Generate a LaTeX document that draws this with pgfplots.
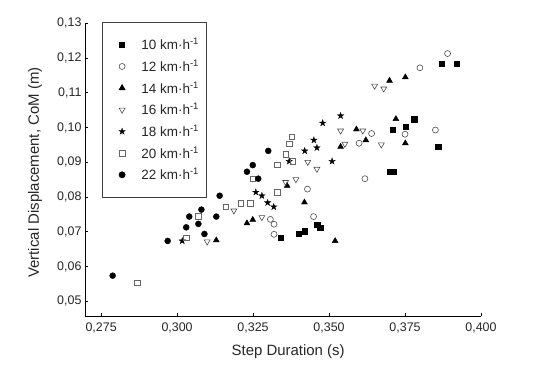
\documentclass[border=0pt]{standalone}
\usepackage{fontspec}
\setmainfont{Liberation Sans}
\usepackage{pgfplots}
\pgfplotsset{compat=1.18}
\pgfdeclareplotmark{fstar}{%
 \pgfpathmoveto{\pgfqpoint{0pt}{\pgfplotmarksize}}%
 \pgfpathlineto{\pgfqpoint{0.2245\pgfplotmarksize}{0.3090\pgfplotmarksize}}%
 \pgfpathlineto{\pgfqpoint{0.9511\pgfplotmarksize}{0.3090\pgfplotmarksize}}%
 \pgfpathlineto{\pgfqpoint{0.3633\pgfplotmarksize}{-0.1180\pgfplotmarksize}}%
 \pgfpathlineto{\pgfqpoint{0.5878\pgfplotmarksize}{-0.8090\pgfplotmarksize}}%
 \pgfpathlineto{\pgfqpoint{0pt}{-0.382\pgfplotmarksize}}%
 \pgfpathlineto{\pgfqpoint{-0.5878\pgfplotmarksize}{-0.8090\pgfplotmarksize}}%
 \pgfpathlineto{\pgfqpoint{-0.3633\pgfplotmarksize}{-0.1180\pgfplotmarksize}}%
 \pgfpathlineto{\pgfqpoint{-0.9511\pgfplotmarksize}{0.3090\pgfplotmarksize}}%
 \pgfpathlineto{\pgfqpoint{-0.2245\pgfplotmarksize}{0.3090\pgfplotmarksize}}%
 \pgfpathclose
 \pgfusepathqfillstroke}
\begin{document}
\begin{tikzpicture}
\path[use as bounding box] (-85bp,-54bp) rectangle (455bp,316bp);
\begin{axis}[
  at={(0,0)}, anchor=south west,
  scale only axis, width=396bp, height=292.7bp,
  xmin=0.2697, xmax=0.4, ymin=0.0458, ymax=0.13,
  axis lines=left, axis line style={-, line width=0.8bp, black},
  xtick={0.275,0.3,0.325,0.35,0.375,0.4},
  ytick={0.05,0.06,0.07,0.08,0.09,0.10,0.11,0.12,0.13},
  scaled ticks=false,
  tick align=inside, major tick length=3.5bp,
  tick style={line width=0.8bp, black},
  /pgf/number format/assume math mode=true,
  xticklabel style={yshift=-3bp, /pgf/number format/.cd, use comma, fixed, fixed zerofill, precision=3},
  yticklabel style={/pgf/number format/.cd, use comma, fixed, fixed zerofill, precision=2},
  tick label style={font=\fontsize{12.5}{14}\selectfont, text=black!85},
  xlabel={Step Duration (s)}, ylabel={Vertical Displacement, CoM (m)},
  label style={font=\fontsize{15}{17}\selectfont, text=black!85},
  xlabel style={at={(axis description cs:0.513,-0.122)}, anchor=center},
  ylabel style={at={(axis description cs:-0.126,0.49)}, anchor=center},
  legend style={draw=black!75, line width=0.8bp, fill=white, at={(0.0437,1.005)}, anchor=north west,
    font=\fontsize{13.5}{15}\selectfont, row sep=4.5bp, inner xsep=5bp, inner ysep=14bp, text=black!85},
  legend image code/.code={\path (0bp,0bp) (31bp,0bp); \draw[#1] plot coordinates {(14bp,0bp)};},
  legend cell align=left,
  clip=false,
]
\addplot[only marks, mark=square*, mark size=2.6bp, black] coordinates {
(0.3871,0.1183) (0.3921,0.1183) (0.3780,0.1024) (0.3709,0.0993) (0.3751,0.1002) (0.3859,0.0944)
(0.3700,0.0873) (0.3712,0.0873) (0.3461,0.0720) (0.3471,0.0713) (0.3340,0.0684) (0.3399,0.0694) (0.3419,0.0702)};
\addlegendentry{10 km·h\textsuperscript{-1}}
\addplot[only marks, mark=o, mark size=3bp, draw=black!70, mark options={fill=white, line width=0.6bp}] coordinates {
(0.3890,0.1213) (0.3799,0.1172) (0.3750,0.0981) (0.3850,0.0993) (0.3640,0.0983) (0.3599,0.0955)
(0.3618,0.0853) (0.3429,0.0823) (0.3307,0.0736) (0.3319,0.0722) (0.3449,0.0744) (0.3319,0.0693)};
\addlegendentry{12 km·h\textsuperscript{-1}}
\addplot[only marks, mark=triangle*, mark size=3.4bp, black] coordinates {
(0.3751,0.1145) (0.3699,0.1135) (0.3720,0.1025) (0.3590,0.0995) (0.3621,0.0964) (0.3538,0.0945)
(0.3751,0.0955) (0.3362,0.0833) (0.3419,0.0785) (0.3230,0.0725) (0.3249,0.0735) (0.3129,0.0676) (0.3520,0.0674)};
\addlegendentry{14 km·h\textsuperscript{-1}}
\addplot[only marks, mark=triangle, mark size=3.4bp, draw=black!70, mark options={rotate=180, fill=white, line width=0.6bp}] coordinates {
(0.3650,0.1120) (0.3680,0.1112) (0.3538,0.0991) (0.3611,0.0991) (0.3552,0.0953) (0.3672,0.0951)
(0.3430,0.0901) (0.3460,0.0881) (0.3391,0.0851) (0.3357,0.0843) (0.3187,0.0761) (0.3279,0.0742) (0.3099,0.0672)};
\addlegendentry{16 km·h\textsuperscript{-1}}
\addplot[only marks, mark=fstar, mark size=3.4bp, black, mark options={line width=0.3bp}] coordinates {
(0.3538,0.1034) (0.3479,0.1013) (0.3450,0.0964) (0.3460,0.0942) (0.3420,0.0933) (0.3369,0.0903)
(0.3510,0.0903) (0.3259,0.0814) (0.3279,0.0804) (0.3298,0.0784) (0.3318,0.0772) (0.3017,0.0674)};
\addlegendentry{18 km·h\textsuperscript{-1}}
\addplot[only marks, mark=square, mark size=2.8bp, draw=black!60, mark options={fill=white, line width=0.6bp}] coordinates {
(0.2870,0.0554) (0.3030,0.0683) (0.3069,0.0744) (0.3160,0.0772) (0.3209,0.0783) (0.3240,0.0783)
(0.3249,0.0853) (0.3330,0.0893) (0.3358,0.0923) (0.3369,0.0953) (0.3378,0.0974) (0.3381,0.0903) (0.3330,0.0814)};
\addlegendentry{20 km·h\textsuperscript{-1}}
\addplot[only marks, mark=*, mark size=3bp, black] coordinates {
(0.2788,0.0574) (0.2969,0.0674) (0.3030,0.0713) (0.3040,0.0744) (0.3070,0.0723) (0.3080,0.0764)
(0.3090,0.0694) (0.3129,0.0744) (0.3140,0.0804) (0.3249,0.0892) (0.3230,0.0873) (0.3267,0.0853) (0.3300,0.0933)};
\addlegendentry{22 km·h\textsuperscript{-1}}
\end{axis}
\end{tikzpicture}
\end{document}
